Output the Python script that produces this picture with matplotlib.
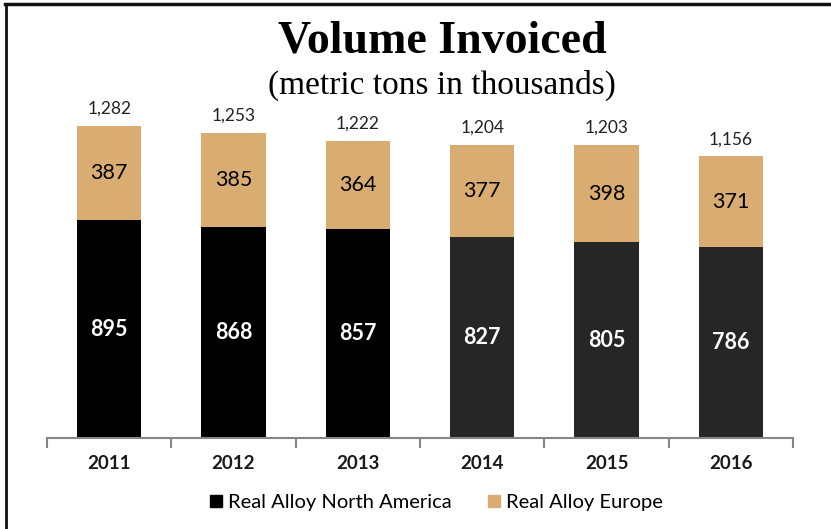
import numpy as np
import matplotlib.pyplot as plt
from matplotlib.lines import Line2D
from matplotlib.patches import Patch

years = ['2011', '2012', '2013', '2014', '2015', '2016']
north_america = [895, 868, 857, 827, 805, 786]
europe = [387, 385, 364, 377, 398, 371]
totals = [1282, 1253, 1222, 1204, 1203, 1156]

na_colors = ['#000000', '#000000', '#000000', '#262626', '#262626', '#262626']
eu_color = '#D9AD72'
sans = ['Lato', 'DejaVu Sans']
serif = ['Liberation Serif', 'DejaVu Serif']


def main():
    fig = plt.figure(figsize=(8.31, 5.29), dpi=100)
    ax = fig.add_axes([47 / 831, 91 / 529, 746 / 831, 340 / 529])

    x = np.arange(len(years))
    ax.bar(x, north_america, width=0.52, color=na_colors, zorder=2)
    ax.bar(x, europe, width=0.52, bottom=north_america, color=eu_color,
           zorder=2)

    for i in range(len(years)):
        ax.text(x[i], north_america[i] / 2, str(north_america[i]),
                ha='center', va='center', color='white', fontsize=15.5,
                fontweight='bold', family=sans)
        ax.text(x[i], north_america[i] + europe[i] / 2, str(europe[i]),
                ha='center', va='center', color='black', fontsize=15.5,
                family=sans)
        ax.text(x[i], totals[i] + 38, f'{totals[i]:,}', ha='center',
                va='bottom', color='#222222', fontsize=12.5, family=sans)

    ax.set_xlim(-0.5, len(years) - 0.5)
    ax.set_ylim(0, 1397)
    for s in ['left', 'right', 'top']:
        ax.spines[s].set_visible(False)
    ax.spines['bottom'].set_color('#868686')
    ax.spines['bottom'].set_linewidth(1.5)
    ax.set_yticks([])
    ax.set_xticks(np.arange(-0.5, len(years)), minor=False)
    ax.set_xticklabels([])
    ax.tick_params(axis='x', length=7, width=1.5, color='#868686')
    for i, y in enumerate(years):
        ax.text(x[i], -0.075, y, transform=ax.get_xaxis_transform(),
                ha='center', va='center', fontsize=13.5, fontweight='bold',
                family=sans, color='#1a1a1a')

    fig.text(0.532, 0.922, 'Volume Invoiced', ha='center', va='center',
             fontsize=33, fontweight='bold', family=serif)
    fig.text(0.532, 0.838, '(metric tons in thousands)', ha='center',
             va='center', fontsize=24, family=serif)

    handles = [Patch(color='#000000'), Patch(color=eu_color)]
    fig.legend(handles, ['Real Alloy North America', 'Real Alloy Europe'],
               loc='center', bbox_to_anchor=(0.525, 0.05), ncol=2,
               frameon=False, handlelength=0.6, handleheight=0.6,
               handletextpad=0.3, columnspacing=1.8,
               prop={'family': sans, 'size': 14.5})

    # frame lines along the top and left edges
    fig.add_artist(Line2D([5 / 831, 1], [1 - 4 / 529, 1 - 4 / 529],
                          transform=fig.transFigure, color='#111111', lw=2.5))
    fig.add_artist(Line2D([6 / 831, 6 / 831], [0, 1 - 4 / 529],
                          transform=fig.transFigure, color='#111111', lw=2))

    fig.savefig('out.png', dpi=100)


if __name__ == '__main__':
    main()
